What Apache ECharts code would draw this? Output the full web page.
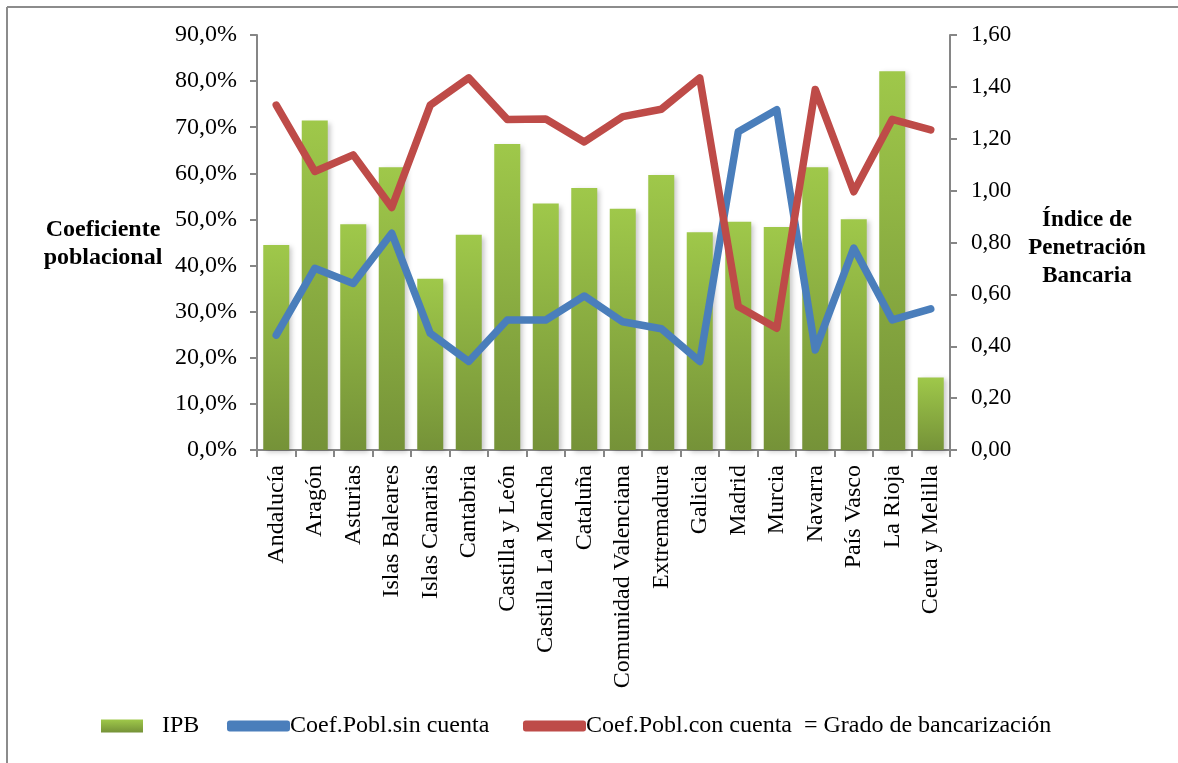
<!DOCTYPE html>
<html>
<head>
<meta charset="utf-8">
<script src="https://cdn.jsdelivr.net/npm/echarts@6/dist/echarts.min.js"></script>
<style>
  html, body { margin: 0; padding: 0; background: #fff; }
  #chart { width: 1178px; height: 763px; }
</style>
</head>
<body>
<div id="chart"></div>
<script>
// Comunidades autónomas
const regiones = [
  'Andalucía', 'Aragón', 'Asturias', 'Islas Baleares', 'Islas Canarias',
  'Cantabria', 'Castilla y León', 'Castilla La Mancha', 'Cataluña',
  'Comunidad Valenciana', 'Extremadura', 'Galicia', 'Madrid', 'Murcia',
  'Navarra', 'País Vasco', 'La Rioja', 'Ceuta y Melilla'
];

// Índice de Penetración Bancaria (eje derecho)
const ipb = [
  0.79, 1.27, 0.87, 1.09, 0.66, 0.83, 1.18, 0.95, 1.01,
  0.93, 1.06, 0.84, 0.88, 0.86, 1.09, 0.89, 1.46, 0.28
];

// Coeficiente poblacional sin cuenta (%, eje izquierdo)
const sinCuenta = [
  24.9, 39.4, 36.1, 47.0, 25.3, 19.2, 28.2, 28.2, 33.4,
  27.8, 26.3, 19.2, 69.0, 73.8, 21.7, 43.8, 28.2, 30.6
];

// Coeficiente poblacional con cuenta = grado de bancarización (%, eje izquierdo)
const conCuenta = [
  74.8, 60.4, 64.0, 52.6, 74.8, 80.7, 71.7, 71.8, 66.8,
  72.3, 73.9, 80.7, 31.1, 26.4, 78.2, 56.0, 71.7, 69.4
];

// Rótulos de los ejes
const pctTicks = { min: 0, max: 90, step: 10 };
const ipbTicks = { min: 0, max: 1.6, step: 0.2 };

const serif = '"Liberation Serif", "Times New Roman", serif';
const axisGray = '#868686';

const chart = echarts.init(document.getElementById('chart'));

chart.setOption({
  animation: false,
  backgroundColor: '#ffffff',
  textStyle: { fontFamily: serif, color: '#000' },
  grid: { left: 257, right: 228, top: 35, bottom: 313 },
  xAxis: {
    type: 'category',
    data: regiones,
    boundaryGap: true,
    axisLine: { lineStyle: { color: axisGray, width: 2 } },
    axisTick: { show: true, length: 7, alignWithLabel: false, lineStyle: { color: axisGray, width: 2 } },
    axisLabel: { rotate: 90, margin: 15, fontSize: 24, fontFamily: serif, color: '#000', interval: 0 }
  },
  yAxis: [
    {
      type: 'value',
      position: 'left',
      min: pctTicks.min, max: pctTicks.max, interval: pctTicks.step,
      splitLine: { show: false },
      axisLine: { show: true, lineStyle: { color: axisGray, width: 2 } },
      axisTick: { show: true, length: 7, lineStyle: { color: axisGray, width: 2 } },
      axisLabel: {
        margin: 20, fontSize: 24, fontFamily: serif, color: '#000',
        formatter: v => v.toFixed(1).replace('.', ',') + '%'
      }
    },
    {
      type: 'value',
      position: 'right',
      min: ipbTicks.min, max: ipbTicks.max, interval: ipbTicks.step,
      splitLine: { show: false },
      axisLine: { show: true, lineStyle: { color: axisGray, width: 2 } },
      axisTick: { show: true, length: 7, lineStyle: { color: axisGray, width: 2 } },
      axisLabel: {
        margin: 21, fontSize: 23, fontFamily: serif, color: '#000',
        formatter: v => v.toFixed(2).replace('.', ',')
      }
    }
  ],
  legend: [
    {
      data: [{ name: 'IPB', icon: 'rect' }],
      left: 96, top: 709,
      itemWidth: 42, itemHeight: 13,
      textStyle: { fontSize: 24, fontFamily: serif, color: '#000', padding: [0, 0, 0, 14] }
    },
    {
      data: [{ name: 'Coef.Pobl.sin cuenta', icon: 'roundRect' }],
      left: 222, top: 709,
      itemWidth: 63, itemHeight: 11,
      textStyle: { fontSize: 24, fontFamily: serif, color: '#000', padding: [0, 0, 0, -5] }
    },
    {
      data: [{ name: 'Coef.Pobl.con cuenta  = Grado de bancarización', icon: 'roundRect' }],
      left: 518, top: 709,
      itemWidth: 63, itemHeight: 11,
      textStyle: { fontSize: 24, fontFamily: serif, color: '#000', padding: [0, 0, 0, -5] }
    }
  ],
  graphic: [
    // Marco superior e izquierdo
    { type: 'line', shape: { x1: 7, y1: 7, x2: 1178, y2: 7 }, style: { stroke: '#8c8c8c', lineWidth: 2 } },
    { type: 'line', shape: { x1: 7, y1: 7, x2: 7, y2: 763 }, style: { stroke: '#8c8c8c', lineWidth: 2 } },
    // Títulos de los ejes
    {
      type: 'text',
      style: {
        x: 103, y: 244, text: 'Coeficiente\npoblacional',
        textAlign: 'center', textVerticalAlign: 'middle',
        font: 'bold 24px ' + serif, fill: '#000', lineHeight: 28
      }
    },
    {
      type: 'text',
      style: {
        x: 1087, y: 248, text: 'Índice de\nPenetración\nBancaria',
        textAlign: 'center', textVerticalAlign: 'middle',
        font: 'bold 23px ' + serif, fill: '#000', lineHeight: 28
      }
    }
  ],
  series: [
    {
      name: 'IPB',
      type: 'bar',
      yAxisIndex: 1,
      data: ipb,
      barWidth: 26,
      itemStyle: {
        color: new echarts.graphic.LinearGradient(0, 0, 0, 1, [
          { offset: 0, color: '#9fc84a' },
          { offset: 1, color: '#759238' }
        ]),
        shadowColor: 'rgba(0,0,0,0.22)',
        shadowBlur: 5,
        shadowOffsetX: 3,
        shadowOffsetY: 2
      }
    },
    {
      name: 'Coef.Pobl.sin cuenta',
      type: 'line',
      yAxisIndex: 0,
      data: sinCuenta,
      showSymbol: false,
      symbol: 'none',
      lineStyle: { color: '#4a7ebb', width: 7.5, cap: 'round', join: 'round' },
      itemStyle: { color: '#4a7ebb' }
    },
    {
      name: 'Coef.Pobl.con cuenta  = Grado de bancarización',
      type: 'line',
      yAxisIndex: 0,
      data: conCuenta,
      showSymbol: false,
      symbol: 'none',
      lineStyle: { color: '#be4b48', width: 7.5, cap: 'round', join: 'round' },
      itemStyle: { color: '#be4b48' }
    }
  ]
});
</script>
</body>
</html>
